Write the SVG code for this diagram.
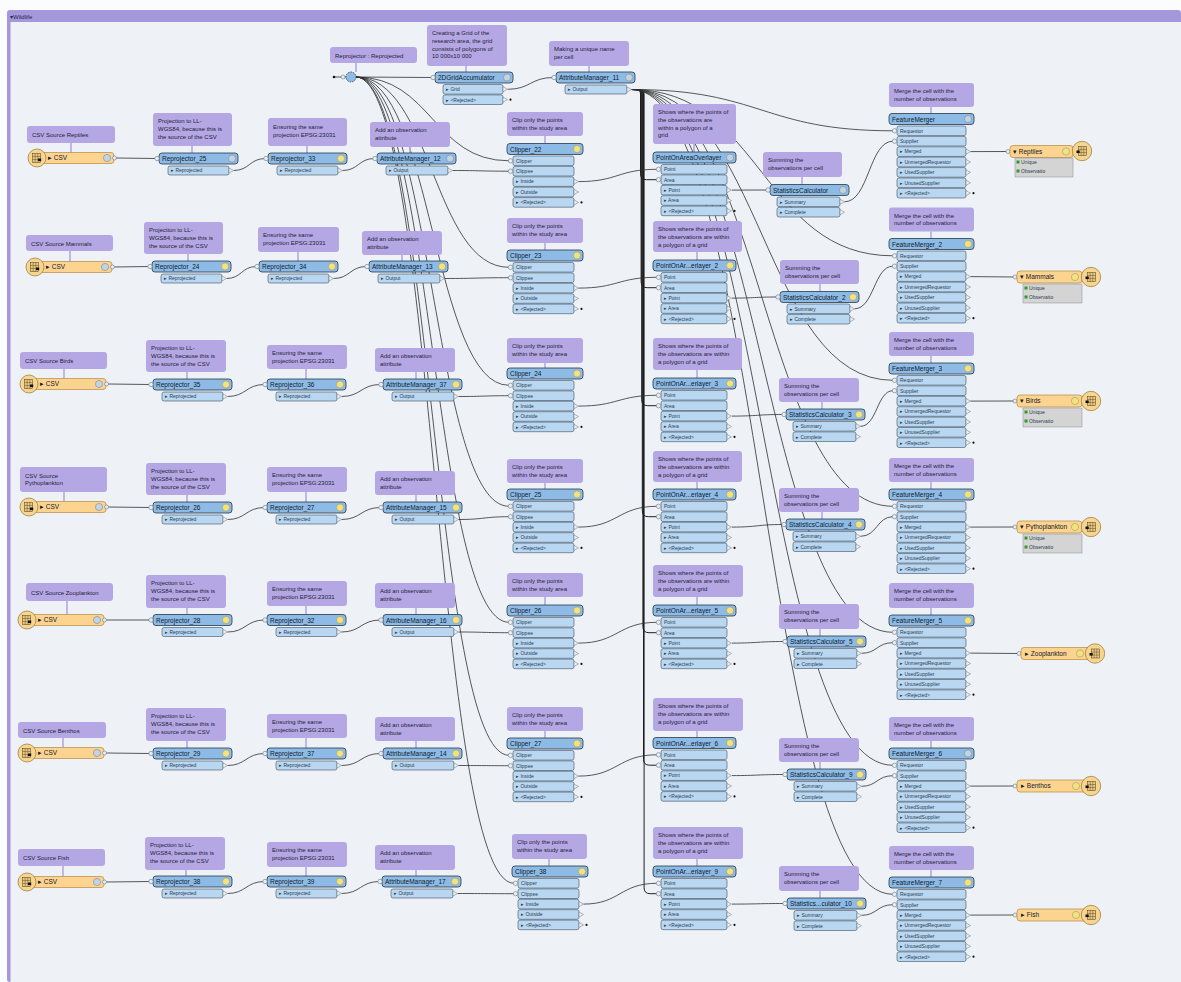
<svg xmlns="http://www.w3.org/2000/svg" xmlns:xlink="http://www.w3.org/1999/xlink" width="1181" height="982" viewBox="0 0 1181 982">
<style>
.tb{fill:#8dbbe6;stroke:#26384a;stroke-width:.8}
.pt{fill:#b9d7f1;stroke:#3a4d60;stroke-width:.6}
.in{fill:#e9edf2;stroke:#6d7a88;stroke-width:.6}
.out{fill:#eef2f6;stroke:#7b8794;stroke-width:.6}
.dot{fill:#111}
.an{fill:#b4a7e3}
.tl{stroke:#b4a7e3;stroke-width:1.6;fill:none}
.at{font-family:"Liberation Sans",Arial,sans-serif;font-size:6px;fill:#231f3a}
.tt{font-family:"Liberation Sans",Arial,sans-serif;font-size:6.5px;fill:#10202e}
.pl{font-family:"Liberation Sans",Arial,sans-serif;font-size:5px;fill:#2a3d52}
.gy{fill:#f3e27e;stroke:#9a9a7a;stroke-width:.6}
.gg{fill:#c4d3e2;stroke:#7a8a9a;stroke-width:.6}
.lk{fill:none;stroke:#2e2e2e;stroke-width:.8}
.bd{fill:none;stroke:#1e1e1e;stroke-width:1}
.rb{fill:#fcd48f;stroke:#b58a3e;stroke-width:.7}
.ic{fill:#f5d590;stroke:#a3823f;stroke-width:.8}
.gl{fill:#e9c77f;stroke:#4a3b20;stroke-width:.5}
.ap{fill:#d4d4d4;stroke:#8a8a8a;stroke-width:.5}
.gr{fill:#2e9a2e}
</style>
<defs>
<!-- port stacks, placed at the top-left corner of each title bar -->
<g id="p-reproj">
<rect class="tb" width="79" height="11" rx="3"/>
<circle class="in" cx="-2" cy="5.5" r="2.2"/>
<rect class="pt" x="9" y="13" width="61" height="9" rx="2"/>
<text class="pl" x="12" y="19.3">▸ Reprojected</text>
<path class="out" d="M70 15V20L74.5 17.5Z"/>
</g>
<g id="p-am">
<rect class="tb" width="79" height="11" rx="3"/>
<circle class="in" cx="-2" cy="5.5" r="2.2"/>
<rect class="pt" x="9" y="13" width="62" height="9" rx="2"/>
<text class="pl" x="12" y="19.3">▸ Output</text>
<path class="out" d="M71 15V20L75.5 17.5Z"/>
</g>
<g id="p-grid">
<rect class="tb" width="78" height="11" rx="3"/>
<circle class="in" cx="-2" cy="5.5" r="2.2"/>
<rect class="pt" x="8" y="12.5" width="60" height="9.6" rx="2"/>
<rect class="pt" x="8" y="22.9" width="60" height="9.6" rx="2"/>
<text class="pl" x="11" y="19.1">▸ Grid</text>
<text class="pl" x="11" y="29.5">▸ &lt;Rejected&gt;</text>
<path class="out" d="M68 14.8V19.8L72.5 17.3Z M68 25.2V30.2L72.5 27.7Z"/>
<circle class="dot" cx="75.5" cy="27.7" r="1.1"/>
</g>
<g id="p-clip">
<rect class="tb" width="76" height="11" rx="3"/>
<rect class="pt" x="6" y="12.5" width="61" height="9.6" rx="2"/>
<rect class="pt" x="6" y="22.9" width="61" height="9.6" rx="2"/>
<rect class="pt" x="6" y="33.3" width="61" height="9.6" rx="2"/>
<rect class="pt" x="6" y="43.7" width="61" height="9.6" rx="2"/>
<rect class="pt" x="6" y="54.1" width="61" height="9.6" rx="2"/>
<circle class="in" cx="3.5" cy="17.3" r="2.2"/>
<circle class="in" cx="3.5" cy="27.7" r="2.2"/>
<text class="pl" x="9" y="19.1">Clipper</text>
<text class="pl" x="9" y="29.5">Clippee</text>
<text class="pl" x="9" y="39.9">▸ Inside</text>
<text class="pl" x="9" y="50.3">▸ Outside</text>
<text class="pl" x="9" y="60.7">▸ &lt;Rejected&gt;</text>
<path class="out" d="M67 35.6V40.6L71.5 38.1Z M67 46V51L71.5 48.5Z M67 56.4V61.4L71.5 58.9Z"/>
<circle class="dot" cx="74.5" cy="58.9" r="1.1"/>
</g>
<g id="p-poa">
<rect class="tb" width="83" height="11" rx="3"/>
<rect class="pt" x="8" y="12.5" width="66" height="9.6" rx="2"/>
<rect class="pt" x="8" y="22.9" width="66" height="9.6" rx="2"/>
<rect class="pt" x="8" y="33.3" width="66" height="9.6" rx="2"/>
<rect class="pt" x="8" y="43.7" width="66" height="9.6" rx="2"/>
<rect class="pt" x="8" y="54.1" width="66" height="9.6" rx="2"/>
<circle class="in" cx="5.5" cy="17.3" r="2.2"/>
<circle class="in" cx="5.5" cy="27.7" r="2.2"/>
<text class="pl" x="11" y="19.1">Point</text>
<text class="pl" x="11" y="29.5">Area</text>
<text class="pl" x="11" y="39.9">▸ Point</text>
<text class="pl" x="11" y="50.3">▸ Area</text>
<text class="pl" x="11" y="60.7">▸ &lt;Rejected&gt;</text>
<path class="out" d="M74 35.6V40.6L78.5 38.1Z M74 46V51L78.5 48.5Z M74 56.4V61.4L78.5 58.9Z"/>
<circle class="dot" cx="81.5" cy="58.9" r="1.1"/>
</g>
<g id="p-stats">
<rect class="tb" width="79" height="11" rx="3"/>
<circle class="in" cx="-2" cy="5.5" r="2.2"/>
<rect class="pt" x="7" y="12.5" width="63" height="9.6" rx="2"/>
<rect class="pt" x="7" y="22.9" width="63" height="9.6" rx="2"/>
<text class="pl" x="10" y="19.1">▸ Summary</text>
<text class="pl" x="10" y="29.5">▸ Complete</text>
<path class="out" d="M70 14.8V19.8L74.5 17.3Z M70 25.2V30.2L74.5 27.7Z"/>
</g>
<g id="p-fm">
<rect class="tb" width="85" height="11" rx="3"/>
<rect class="pt" x="8" y="12.5" width="69" height="9.6" rx="2"/>
<rect class="pt" x="8" y="22.9" width="69" height="9.6" rx="2"/>
<rect class="pt" x="8" y="33.3" width="69" height="9.6" rx="2"/>
<rect class="pt" x="8" y="43.7" width="69" height="9.6" rx="2"/>
<rect class="pt" x="8" y="54.1" width="69" height="9.6" rx="2"/>
<rect class="pt" x="8" y="64.5" width="69" height="9.6" rx="2"/>
<rect class="pt" x="8" y="74.9" width="69" height="9.6" rx="2"/>
<circle class="in" cx="5.5" cy="17.3" r="2.2"/>
<circle class="in" cx="5.5" cy="27.7" r="2.2"/>
<text class="pl" x="11" y="19.1">Requestor</text>
<text class="pl" x="11" y="29.5">Supplier</text>
<text class="pl" x="11" y="39.9">▸ Merged</text>
<text class="pl" x="11" y="50.3">▸ UnmergedRequestor</text>
<text class="pl" x="11" y="60.7">▸ UsedSupplier</text>
<text class="pl" x="11" y="71.1">▸ UnusedSupplier</text>
<text class="pl" x="11" y="81.5">▸ &lt;Rejected&gt;</text>
<path class="out" d="M77 35.6V40.6L81.5 38.1Z M77 46V51L81.5 48.5Z M77 56.4V61.4L81.5 58.9Z M77 66.8V71.8L81.5 69.3Z M77 77.2V82.2L81.5 79.7Z"/>
<circle class="dot" cx="84.5" cy="79.7" r="1.1"/>
</g>
<!-- CSV reader, placed at the centre of its round icon -->
<g id="rdr">
<rect class="rb" x="-3" y="-5.5" width="80" height="11" rx="3"/>
<circle class="ic" r="9"/>
<rect class="gl" x="-4.5" y="-4.5" width="8" height="9"/>
<path d="M-1.8 -4.5V4.5M0.8 -4.5V4.5M-4.5 -1.5H3.5M-4.5 1.5H3.5" stroke="#4a3b20" stroke-width=".4"/>
<rect x="1" y="0.5" width="3.2" height="2.6" fill="#111"/>
<text class="tt" x="11" y="2.4">▸ CSV</text>
<circle class="gg" cx="70" cy="0" r="3.6"/>
<circle class="in" cx="77.5" cy="0" r="2"/>
</g>
<!-- writer icon -->
<g id="wico">
<circle class="ic" r="9.7"/>
<rect class="gl" x="-3.5" y="-4.5" width="8" height="9"/>
<path d="M-0.8 -4.5V4.5M1.8 -4.5V4.5M-3.5 -1.5H4.5M-3.5 1.5H4.5" stroke="#4a3b20" stroke-width=".4"/>
<rect x="-5.5" y="-0.5" width="3.2" height="2.6" fill="#111"/>
</g>
</defs>

<!-- canvas and bookmark frame -->
<rect width="1181" height="982" fill="#fafcfd"/>
<rect x="7" y="10" width="1174" height="972" rx="3" fill="#a497dc"/>
<rect x="10.5" y="22" width="1170.5" height="960" fill="#eef2f7"/>
<text x="10" y="18.5" font-family="Liberation Sans, Arial, sans-serif" font-size="6" fill="#2a2450">▾Wildlife</text>

<!-- connectors -->
<g id="links">
<path class="lk" d="M356 77L432.5 77.5"/>
<path class="lk" d="M507.5 89.3C530.5 89.3 530.5 77.5 553.5 77.5"/>
<!-- reprojected junction fan to clipper inputs -->
<path class="lk" d="M356 77C432 77 433 160.8 509 160.8"/>
<path class="lk" d="M356 77C432 77 433 267.3 509 267.3"/>
<path class="lk" d="M356 77C432 77 433 385.3 509 385.3"/>
<path class="lk" d="M356 77C432 77 433 506.3 509 506.3"/>
<path class="lk" d="M356 77C432 77 433 622.3 509 622.3"/>
<path class="lk" d="M356 77C432 77 433 755.3 509 755.3"/>
<path class="lk" d="M356 77C435 77 435 883.3 514 883.3"/>
<!-- grid cells to overlayer areas -->
<path class="bd" d="M631.5 89.5H636Q640.5 89.5 640.5 94V173.7Q640.5 179.7 646.5 179.7H657"/>
<path class="bd" d="M631.5 89.5H636Q641.1 89.5 641.1 94V281.7Q641.1 287.7 647.1 287.7H657"/>
<path class="bd" d="M631.5 89.5H636Q641.7 89.5 641.7 94V399.7Q641.7 405.7 647.7 405.7H657"/>
<path class="bd" d="M631.5 89.5H636Q642.3 89.5 642.3 94V510.7Q642.3 516.7 648.3 516.7H657"/>
<path class="bd" d="M631.5 89.5H636Q642.9 89.5 642.9 94V626.7Q642.9 632.7 648.9 632.7H657"/>
<path class="bd" d="M631.5 89.5H636Q643.5 89.5 643.5 94V759.2Q643.5 765.2 649.5 765.2H657"/>
<path class="bd" d="M631.5 89.5H636Q644.1 89.5 644.1 94V887.7Q644.1 893.7 650.1 893.7H657"/>
<!-- grid cells to merger requestors -->
<path class="lk" d="M631.5 89.5C762 89.5 762 130.8 893 130.8"/>
<path class="lk" d="M631.5 89.5C762 89.5 762 255.8 893 255.8"/>
<path class="lk" d="M631.5 89.5C762 89.5 762 380.3 893 380.3"/>
<path class="lk" d="M631.5 89.5C762 89.5 762 506.3 893 506.3"/>
<path class="lk" d="M631.5 89.5C762 89.5 762 632.3 893 632.3"/>
<path class="lk" d="M631.5 89.5C762 89.5 762 765.3 893 765.3"/>
<path class="lk" d="M631.5 89.5C762 89.5 762 894.3 893 894.3"/>
<!-- row 1 -->
<path class="lk" d="M116 158L156.5 158.5"/>
<path class="lk" d="M233.5 170.5C249.5 170.5 249.5 158.5 265.5 158.5"/>
<path class="lk" d="M342.5 170.5C358.5 170.5 358.5 158.5 374.5 158.5"/>
<path class="lk" d="M452.5 170.5C481 170.5 481 171.2 509 171.2"/>
<path class="lk" d="M578.5 181.6C618 181.6 618 169.3 657 169.3"/>
<path class="lk" d="M732 190.1L767 190"/>
<path class="lk" d="M844.5 201.8C869 201.8 869 141.2 893 141.2"/>
<path class="lk" d="M970.5 151.6L1007 151.5"/>
<!-- row 2 -->
<path class="lk" d="M114 267L149.5 266.5"/>
<path class="lk" d="M226.5 278.5C241.5 278.5 241.5 266.5 256.5 266.5"/>
<path class="lk" d="M333.5 278.5C350 278.5 350 266.5 366.5 266.5"/>
<path class="lk" d="M444.5 278.5C477 278.5 477 277.7 509 277.7"/>
<path class="lk" d="M578.5 288.1C618 288.1 618 277.3 657 277.3"/>
<path class="lk" d="M732 298.1C755 298.1 754 297 777 297"/>
<path class="lk" d="M854.5 308.8C874 308.8 874 266.2 893 266.2"/>
<path class="lk" d="M970.5 276.6L1014 277"/>
<!-- row 3 -->
<path class="lk" d="M108 384L150.5 384.5"/>
<path class="lk" d="M227.5 396.5C246 396.5 246 384.5 264.5 384.5"/>
<path class="lk" d="M341.5 396.5C361 396.5 361 384.5 380.5 384.5"/>
<path class="lk" d="M458.5 396.5C484 396.5 484 395.7 509 395.7"/>
<path class="lk" d="M578.5 406.1C618 406.1 618 395.3 657 395.3"/>
<path class="lk" d="M732 416.1C758 416.1 757 414.5 783 414.5"/>
<path class="lk" d="M860.5 426.3C877 426.3 877 390.7 893 390.7"/>
<path class="lk" d="M970.5 401.1L1014 401"/>
<!-- row 4 -->
<path class="lk" d="M108 507L150.5 507.5"/>
<path class="lk" d="M227.5 519.5C246 519.5 246 507.5 264.5 507.5"/>
<path class="lk" d="M341.5 519.5C361 519.5 361 507.5 380.5 507.5"/>
<path class="lk" d="M458.5 519.5C484 519.5 484 516.7 509 516.7"/>
<path class="lk" d="M578.5 527.1C618 527.1 618 506.3 657 506.3"/>
<path class="lk" d="M732 527.1C758 527.1 757 524.5 783 524.5"/>
<path class="lk" d="M860.5 536.3C877 536.3 877 516.7 893 516.7"/>
<path class="lk" d="M970.5 527.1L1014 527"/>
<!-- row 5 -->
<path class="lk" d="M106 620L150.5 620"/>
<path class="lk" d="M227.5 632C246 632 246 620 264.5 620"/>
<path class="lk" d="M341.5 632C361 632 361 620 380.5 620"/>
<path class="lk" d="M458.5 632C484 632 484 632.7 509 632.7"/>
<path class="lk" d="M578.5 643.1C618 643.1 618 622.3 657 622.3"/>
<path class="lk" d="M732 643.1C758 643.1 758 641.5 784 641.5"/>
<path class="lk" d="M861.5 653.3C877 653.3 877 642.7 893 642.7"/>
<path class="lk" d="M970.5 653.1L1018 653.5"/>
<!-- row 6 -->
<path class="lk" d="M106 753L150.5 753.5"/>
<path class="lk" d="M227.5 765.5C246 765.5 246 753.5 264.5 753.5"/>
<path class="lk" d="M341.5 765.5C361 765.5 361 753.5 380.5 753.5"/>
<path class="lk" d="M458.5 765.5C484 765.5 484 765.7 509 765.7"/>
<path class="lk" d="M578.5 776.1C618 776.1 618 754.8 657 754.8"/>
<path class="lk" d="M732 775.6C758 775.6 758 774.5 784 774.5"/>
<path class="lk" d="M861.5 786.3C877 786.3 877 775.7 893 775.7"/>
<path class="lk" d="M970.5 786.1L1014 786"/>
<!-- row 7 -->
<path class="lk" d="M106 882L150.5 881.5"/>
<path class="lk" d="M227.5 893.5C246 893.5 246 881.5 264.5 881.5"/>
<path class="lk" d="M341.5 893.5C360.5 893.5 360.5 881.5 379.5 881.5"/>
<path class="lk" d="M457.5 893.5C486 893.5 486 893.7 514 893.7"/>
<path class="lk" d="M583.5 904.1C620 904.1 620 883.3 657 883.3"/>
<path class="lk" d="M732 904.1C758 904.1 758 903.5 784 903.5"/>
<path class="lk" d="M861.5 915.3C877 915.3 877 904.7 893 904.7"/>
<path class="lk" d="M970.5 915.1L1014 915"/>
</g>

<!-- shared nodes at the top -->
<g id="junction-reprojected">
<rect class="an" x="330" y="47" width="87" height="16" rx="3"/><path class="tl" d="M356 63V72"/>
<text class="at" x="335" y="57.5">Reprojector : Reprojected</text>
<path class="lk" d="M334 77H346"/><circle class="dot" cx="334" cy="77" r="1.3"/><circle class="in" cx="343" cy="77" r="2"/>
<circle cx="351" cy="77" r="5" fill="#8dbbe6" stroke="#26384a" stroke-width=".8" stroke-dasharray="1.5 1"/>
</g>
<g id="grid-accumulator">
<rect class="an" x="427" y="25" width="80" height="41" rx="3"/><path class="tl" d="M466 66V72"/>
<text class="at"><tspan x="432" y="35">Creating a Grid of the</tspan><tspan x="432" y="42.8">research area, the grid</tspan><tspan x="432" y="50.6">consists of polygons of</tspan><tspan x="432" y="58.4">10 000x10 000</tspan></text>
<use href="#p-grid" x="435" y="72"/><text class="tt" x="438" y="80">2DGridAccumulator</text><circle class="gg" cx="507" cy="77.5" r="3.6"/>
</g>
<g id="attributemanager-11">
<rect class="an" x="549" y="41" width="80" height="25" rx="3"/><path class="tl" d="M589 66V72"/>
<text class="at"><tspan x="554" y="51">Making a unique name</tspan><tspan x="554" y="58.8">per cell</tspan></text>
<use href="#p-am" x="556" y="72"/><text class="tt" x="559" y="80">AttributeManager_11</text><circle class="gg" cx="629" cy="77.5" r="3.6"/>
</g>

<!-- row 1: reptiles -->
<g id="csv-reptiles"><rect class="an" x="27" y="126" width="88" height="17" rx="3"/><path class="tl" d="M71 143V152.5"/><text class="at" x="32" y="137">CSV Source Reptiles</text><use href="#rdr" x="37" y="158"/></g>
<g id="reprojector-25"><rect class="an" x="153" y="113" width="79" height="33" rx="3"/><path class="tl" d="M192 146V153"/><text class="at"><tspan x="158" y="123">Projection to LL-</tspan><tspan x="158" y="130.8">WGS84, because this is</tspan><tspan x="158" y="138.6">the source of the CSV</tspan></text><use href="#p-reproj" x="159" y="153"/><text class="tt" x="162" y="161">Reprojector_25</text><circle class="gg" cx="232" cy="158.5" r="3.6"/></g>
<g id="reprojector-33"><rect class="an" x="268" y="118" width="79" height="28" rx="3"/><path class="tl" d="M307 146V153"/><text class="at"><tspan x="273" y="129">Ensuring the same</tspan><tspan x="273" y="136.8">projection EPSG:23031</tspan></text><use href="#p-reproj" x="268" y="153"/><text class="tt" x="271" y="161">Reprojector_33</text><circle class="gy" cx="341" cy="158.5" r="3.6"/></g>
<g id="attributemanager-12"><rect class="an" x="370" y="122" width="80" height="25" rx="3"/><path class="tl" d="M410 147V153"/><text class="at"><tspan x="375" y="132">Add an observation</tspan><tspan x="375" y="139.8">attribute</tspan></text><use href="#p-am" x="377" y="153"/><text class="tt" x="380" y="161">AttributeManager_12</text><circle class="gg" cx="450" cy="158.5" r="3.6"/></g>
<g id="clipper-22"><rect class="an" x="507" y="112" width="76" height="24" rx="3"/><path class="tl" d="M545 136V143.5"/><text class="at"><tspan x="512" y="122">Clip only the points</tspan><tspan x="512" y="129.8">within the study area</tspan></text><use href="#p-clip" x="507" y="143.5"/><text class="tt" x="510" y="151.5">Clipper_22</text><circle class="gy" cx="577" cy="149" r="3.6"/></g>
<g id="pointonareaoverlayer"><rect class="an" x="653" y="104" width="83" height="40" rx="3"/><path class="tl" d="M694 144V152"/><text class="at"><tspan x="658" y="114">Shows where the points of</tspan><tspan x="658" y="121.8">the observations are</tspan><tspan x="658" y="129.6">within a polygon of a</tspan><tspan x="658" y="137.4">grid</tspan></text><use href="#p-poa" x="653" y="152"/><text class="tt" x="656" y="160">PointOnAreaOverlayer</text><circle class="gg" cx="730" cy="157.5" r="3.6"/></g>
<g id="statisticscalculator"><rect class="an" x="763" y="152" width="79" height="25" rx="3"/><path class="tl" d="M802 177V184.5"/><text class="at"><tspan x="768" y="162">Summing the</tspan><tspan x="768" y="169.8">observations per cell</tspan></text><use href="#p-stats" x="770" y="184.5"/><text class="tt" x="773" y="192.5">StatisticsCalculator</text><circle class="gg" cx="843" cy="190" r="3.6"/></g>
<g id="featuremerger"><rect class="an" x="889" y="83" width="85" height="24" rx="3"/><path class="tl" d="M931 107V113.5"/><text class="at"><tspan x="894" y="93">Merge the cell with the</tspan><tspan x="894" y="100.8">number of observations</tspan></text><use href="#p-fm" x="889" y="113.5"/><text class="tt" x="892" y="121.5">FeatureMerger</text><circle class="gg" cx="968" cy="119" r="3.6"/></g>
<g id="writer-reptiles"><circle class="in" cx="1008" cy="151.5" r="2"/><rect class="rb" x="1010" y="145.5" width="63" height="12" rx="3"/><text class="tt" x="1013" y="153.8">▾ Reptiles</text><circle class="gy" cx="1066" cy="151.5" r="3.6"/><rect class="ap" x="1015" y="158" width="58" height="19"/><rect class="gr" x="1016.5" y="160.5" width="3" height="3"/><rect class="gr" x="1016.5" y="169.5" width="3" height="3"/><text class="pl" x="1021" y="163.8">Unique</text><text class="pl" x="1021" y="172.8">Observatio</text><use href="#wico" x="1082" y="151"/></g>

<!-- row 2: mammals -->
<g id="csv-mammals"><rect class="an" x="26" y="235" width="87" height="16" rx="3"/><path class="tl" d="M70 251V261.5"/><text class="at" x="31" y="245.5">CSV Source Mammals</text><use href="#rdr" x="35" y="267"/></g>
<g id="reprojector-24"><rect class="an" x="144" y="222" width="79" height="32" rx="3"/><path class="tl" d="M188 254V261"/><text class="at"><tspan x="149" y="232">Projection to LL-</tspan><tspan x="149" y="239.8">WGS84, because this is</tspan><tspan x="149" y="247.6">the source of the CSV</tspan></text><use href="#p-reproj" x="152" y="261"/><text class="tt" x="155" y="269">Reprojector_24</text><circle class="gy" cx="225" cy="266.5" r="3.6"/></g>
<g id="reprojector-34"><rect class="an" x="258" y="227" width="81" height="25" rx="3"/><path class="tl" d="M298 252V261"/><text class="at"><tspan x="263" y="237">Ensuring the same</tspan><tspan x="263" y="244.8">projection EPSG:23031</tspan></text><use href="#p-reproj" x="259" y="261"/><text class="tt" x="262" y="269">Reprojector_34</text><circle class="gy" cx="332" cy="266.5" r="3.6"/></g>
<g id="attributemanager-13"><rect class="an" x="362" y="231" width="80" height="24" rx="3"/><path class="tl" d="M402 255V261"/><text class="at"><tspan x="367" y="241">Add an observation</tspan><tspan x="367" y="248.8">attribute</tspan></text><use href="#p-am" x="369" y="261"/><text class="tt" x="372" y="269">AttributeManager_13</text><circle class="gy" cx="442" cy="266.5" r="3.6"/></g>
<g id="clipper-23"><rect class="an" x="507" y="218" width="76" height="25" rx="3"/><path class="tl" d="M545 243V250"/><text class="at"><tspan x="512" y="228">Clip only the points</tspan><tspan x="512" y="235.8">within the study area</tspan></text><use href="#p-clip" x="507" y="250"/><text class="tt" x="510" y="258">Clipper_23</text><circle class="gy" cx="577" cy="255.5" r="3.6"/></g>
<g id="pointonareaoverlayer-2"><rect class="an" x="653" y="221" width="89" height="31" rx="3"/><path class="tl" d="M697 252V260"/><text class="at"><tspan x="658" y="231">Shows where the points of</tspan><tspan x="658" y="238.8">the observations are within</tspan><tspan x="658" y="246.6">a polygon of a grid</tspan></text><use href="#p-poa" x="653" y="260"/><text class="tt" x="656" y="268">PointOnAr...erlayer_2</text><circle class="gy" cx="730" cy="265.5" r="3.6"/></g>
<g id="statisticscalculator-2"><rect class="an" x="780" y="260" width="79" height="24" rx="3"/><path class="tl" d="M820 284V291.5"/><text class="at"><tspan x="785" y="270">Summing the</tspan><tspan x="785" y="277.8">observations per cell</tspan></text><use href="#p-stats" x="780" y="291.5"/><text class="tt" x="783" y="299.5">StatisticsCalculator_2</text><circle class="gy" cx="853" cy="297" r="3.6"/></g>
<g id="featuremerger-2"><rect class="an" x="889" y="207.5" width="85" height="24" rx="3"/><path class="tl" d="M931 231.5V238.5"/><text class="at"><tspan x="894" y="217.5">Merge the cell with the</tspan><tspan x="894" y="225.3">number of observations</tspan></text><use href="#p-fm" x="889" y="238.5"/><text class="tt" x="892" y="246.5">FeatureMerger_2</text><circle class="gy" cx="968" cy="244" r="3.6"/></g>
<g id="writer-mammals"><circle class="in" cx="1015" cy="277" r="2"/><rect class="rb" x="1017" y="271" width="65" height="12" rx="3"/><text class="tt" x="1020" y="279.3">▾ Mammals</text><circle class="gy" cx="1075" cy="277" r="3.6"/><rect class="ap" x="1023" y="284" width="59" height="19"/><rect class="gr" x="1024.5" y="286.5" width="3" height="3"/><rect class="gr" x="1024.5" y="295.5" width="3" height="3"/><text class="pl" x="1029" y="289.8">Unique</text><text class="pl" x="1029" y="298.8">Observatio</text><use href="#wico" x="1091" y="277"/></g>

<!-- row 3: birds -->
<g id="csv-birds"><rect class="an" x="20" y="352" width="87" height="17" rx="3"/><path class="tl" d="M64 369V378.5"/><text class="at" x="25" y="363">CSV Source Birds</text><use href="#rdr" x="29" y="384"/></g>
<g id="reprojector-35"><rect class="an" x="146" y="340" width="80" height="32" rx="3"/><path class="tl" d="M187 372V379"/><text class="at"><tspan x="151" y="350">Projection to LL-</tspan><tspan x="151" y="357.8">WGS84, because this is</tspan><tspan x="151" y="365.6">the source of the CSV</tspan></text><use href="#p-reproj" x="153" y="379"/><text class="tt" x="156" y="387">Reprojector_35</text><circle class="gy" cx="226" cy="384.5" r="3.6"/></g>
<g id="reprojector-36"><rect class="an" x="267" y="345" width="80" height="24" rx="3"/><path class="tl" d="M306 369V379"/><text class="at"><tspan x="272" y="355">Ensuring the same</tspan><tspan x="272" y="362.8">projection EPSG:23031</tspan></text><use href="#p-reproj" x="267" y="379"/><text class="tt" x="270" y="387">Reprojector_36</text><circle class="gy" cx="340" cy="384.5" r="3.6"/></g>
<g id="attributemanager-37"><rect class="an" x="375" y="348" width="80" height="24" rx="3"/><path class="tl" d="M416 372V379"/><text class="at"><tspan x="380" y="358">Add an observation</tspan><tspan x="380" y="365.8">attribute</tspan></text><use href="#p-am" x="383" y="379"/><text class="tt" x="386" y="387">AttributeManager_37</text><circle class="gy" cx="456" cy="384.5" r="3.6"/></g>
<g id="clipper-24"><rect class="an" x="507" y="338" width="76" height="25" rx="3"/><path class="tl" d="M545 363V368"/><text class="at"><tspan x="512" y="348">Clip only the points</tspan><tspan x="512" y="355.8">within the study area</tspan></text><use href="#p-clip" x="507" y="368"/><text class="tt" x="510" y="376">Clipper_24</text><circle class="gy" cx="577" cy="373.5" r="3.6"/></g>
<g id="pointonareaoverlayer-3"><rect class="an" x="653" y="338" width="89" height="32" rx="3"/><path class="tl" d="M697 370V378"/><text class="at"><tspan x="658" y="348">Shows where the points of</tspan><tspan x="658" y="355.8">the observations are within</tspan><tspan x="658" y="363.6">a polygon of a grid</tspan></text><use href="#p-poa" x="653" y="378"/><text class="tt" x="656" y="386">PointOnAr...erlayer_3</text><circle class="gy" cx="730" cy="383.5" r="3.6"/></g>
<g id="statisticscalculator-3"><rect class="an" x="779" y="378" width="80" height="24" rx="3"/><path class="tl" d="M822 402V409"/><text class="at"><tspan x="784" y="388">Summing the</tspan><tspan x="784" y="395.8">observations per cell</tspan></text><use href="#p-stats" x="786" y="409"/><text class="tt" x="789" y="417">StatisticsCalculator_3</text><circle class="gy" cx="859" cy="414.5" r="3.6"/></g>
<g id="featuremerger-3"><rect class="an" x="889" y="332" width="85" height="24" rx="3"/><path class="tl" d="M931 356V363"/><text class="at"><tspan x="894" y="342">Merge the cell with the</tspan><tspan x="894" y="349.8">number of observations</tspan></text><use href="#p-fm" x="889" y="363"/><text class="tt" x="892" y="371">FeatureMerger_3</text><circle class="gy" cx="968" cy="368.5" r="3.6"/></g>
<g id="writer-birds"><circle class="in" cx="1015" cy="401" r="2"/><rect class="rb" x="1017" y="395" width="65" height="12" rx="3"/><text class="tt" x="1020" y="403.3">▾ Birds</text><circle class="gy" cx="1075" cy="401" r="3.6"/><rect class="ap" x="1023" y="408" width="59" height="19"/><rect class="gr" x="1024.5" y="410.5" width="3" height="3"/><rect class="gr" x="1024.5" y="419.5" width="3" height="3"/><text class="pl" x="1029" y="413.8">Unique</text><text class="pl" x="1029" y="422.8">Observatio</text><use href="#wico" x="1091" y="401"/></g>

<!-- row 4: phytoplankton -->
<g id="csv-phytoplankton"><rect class="an" x="20" y="467" width="87" height="25" rx="3"/><path class="tl" d="M64 492V501.5"/><text class="at"><tspan x="25" y="477.5">CSV Source</tspan><tspan x="25" y="485.3">Pythoplankton</tspan></text><use href="#rdr" x="29" y="507"/></g>
<g id="reprojector-26"><rect class="an" x="146" y="463" width="80" height="32" rx="3"/><path class="tl" d="M187 495V502"/><text class="at"><tspan x="151" y="473">Projection to LL-</tspan><tspan x="151" y="480.8">WGS84, because this is</tspan><tspan x="151" y="488.6">the source of the CSV</tspan></text><use href="#p-reproj" x="153" y="502"/><text class="tt" x="156" y="510">Reprojector_26</text><circle class="gy" cx="226" cy="507.5" r="3.6"/></g>
<g id="reprojector-27"><rect class="an" x="267" y="467" width="80" height="25" rx="3"/><path class="tl" d="M306 492V502"/><text class="at"><tspan x="272" y="477">Ensuring the same</tspan><tspan x="272" y="484.8">projection EPSG:23031</tspan></text><use href="#p-reproj" x="267" y="502"/><text class="tt" x="270" y="510">Reprojector_27</text><circle class="gy" cx="340" cy="507.5" r="3.6"/></g>
<g id="attributemanager-15"><rect class="an" x="375" y="471" width="80" height="24" rx="3"/><path class="tl" d="M416 495V502"/><text class="at"><tspan x="380" y="481">Add an observation</tspan><tspan x="380" y="488.8">attribute</tspan></text><use href="#p-am" x="383" y="502"/><text class="tt" x="386" y="510">AttributeManager_15</text><circle class="gy" cx="456" cy="507.5" r="3.6"/></g>
<g id="clipper-25"><rect class="an" x="507" y="459" width="76" height="24" rx="3"/><path class="tl" d="M545 483V489"/><text class="at"><tspan x="512" y="469">Clip only the points</tspan><tspan x="512" y="476.8">within the study area</tspan></text><use href="#p-clip" x="507" y="489"/><text class="tt" x="510" y="497">Clipper_25</text><circle class="gy" cx="577" cy="494.5" r="3.6"/></g>
<g id="pointonareaoverlayer-4"><rect class="an" x="653" y="451" width="89" height="31" rx="3"/><path class="tl" d="M697 482V489"/><text class="at"><tspan x="658" y="461">Shows where the points of</tspan><tspan x="658" y="468.8">the observations are within</tspan><tspan x="658" y="476.6">a polygon of a grid</tspan></text><use href="#p-poa" x="653" y="489"/><text class="tt" x="656" y="497">PointOnAr...erlayer_4</text><circle class="gy" cx="730" cy="494.5" r="3.6"/></g>
<g id="statisticscalculator-4"><rect class="an" x="779" y="488" width="80" height="24" rx="3"/><path class="tl" d="M822 512V519"/><text class="at"><tspan x="784" y="498">Summing the</tspan><tspan x="784" y="505.8">observations per cell</tspan></text><use href="#p-stats" x="786" y="519"/><text class="tt" x="789" y="527">StatisticsCalculator_4</text><circle class="gy" cx="859" cy="524.5" r="3.6"/></g>
<g id="featuremerger-4"><rect class="an" x="889" y="458" width="85" height="24" rx="3"/><path class="tl" d="M931 482V489"/><text class="at"><tspan x="894" y="468">Merge the cell with the</tspan><tspan x="894" y="475.8">number of observations</tspan></text><use href="#p-fm" x="889" y="489"/><text class="tt" x="892" y="497">FeatureMerger_4</text><circle class="gy" cx="968" cy="494.5" r="3.6"/></g>
<g id="writer-phytoplankton"><circle class="in" cx="1015" cy="527" r="2"/><rect class="rb" x="1017" y="521" width="65" height="12" rx="3"/><text class="tt" x="1020" y="529.3">▾ Pythoplankton</text><circle class="gy" cx="1075" cy="527" r="3.6"/><rect class="ap" x="1023" y="534" width="59" height="19"/><rect class="gr" x="1024.5" y="536.5" width="3" height="3"/><rect class="gr" x="1024.5" y="545.5" width="3" height="3"/><text class="pl" x="1029" y="539.8">Unique</text><text class="pl" x="1029" y="548.8">Observatio</text><use href="#wico" x="1091" y="527"/></g>

<!-- row 5: zooplankton -->
<g id="csv-zooplankton"><rect class="an" x="26" y="583" width="87" height="18" rx="3"/><path class="tl" d="M67 601V614.5"/><text class="at" x="31" y="594.5">CSV Source Zooplankton</text><use href="#rdr" x="27" y="620"/></g>
<g id="reprojector-28"><rect class="an" x="146" y="575" width="80" height="33" rx="3"/><path class="tl" d="M187 608V614.5"/><text class="at"><tspan x="151" y="585">Projection to LL-</tspan><tspan x="151" y="592.8">WGS84, because this is</tspan><tspan x="151" y="600.6">the source of the CSV</tspan></text><use href="#p-reproj" x="153" y="614.5"/><text class="tt" x="156" y="622.5">Reprojector_28</text><circle class="gy" cx="226" cy="620" r="3.6"/></g>
<g id="reprojector-32"><rect class="an" x="267" y="581" width="80" height="25" rx="3"/><path class="tl" d="M306 606V614.5"/><text class="at"><tspan x="272" y="591">Ensuring the same</tspan><tspan x="272" y="598.8">projection EPSG:23031</tspan></text><use href="#p-reproj" x="267" y="614.5"/><text class="tt" x="270" y="622.5">Reprojector_32</text><circle class="gy" cx="340" cy="620" r="3.6"/></g>
<g id="attributemanager-16"><rect class="an" x="375" y="583" width="80" height="25" rx="3"/><path class="tl" d="M416 608V614.5"/><text class="at"><tspan x="380" y="593">Add an observation</tspan><tspan x="380" y="600.8">attribute</tspan></text><use href="#p-am" x="383" y="614.5"/><text class="tt" x="386" y="622.5">AttributeManager_16</text><circle class="gy" cx="456" cy="620" r="3.6"/></g>
<g id="clipper-26"><rect class="an" x="507" y="573" width="76" height="24" rx="3"/><path class="tl" d="M545 597V605"/><text class="at"><tspan x="512" y="583">Clip only the points</tspan><tspan x="512" y="590.8">within the study area</tspan></text><use href="#p-clip" x="507" y="605"/><text class="tt" x="510" y="613">Clipper_26</text><circle class="gy" cx="577" cy="610.5" r="3.6"/></g>
<g id="pointonareaoverlayer-5"><rect class="an" x="653" y="565" width="90" height="32" rx="3"/><path class="tl" d="M697 597V605"/><text class="at"><tspan x="658" y="575">Shows where the points of</tspan><tspan x="658" y="582.8">the observations are within</tspan><tspan x="658" y="590.6">a polygon of a grid</tspan></text><use href="#p-poa" x="653" y="605"/><text class="tt" x="656" y="613">PointOnAr...erlayer_5</text><circle class="gy" cx="730" cy="610.5" r="3.6"/></g>
<g id="statisticscalculator-5"><rect class="an" x="779" y="604" width="80" height="25" rx="3"/><path class="tl" d="M820 629V636"/><text class="at"><tspan x="784" y="614">Summing the</tspan><tspan x="784" y="621.8">observations per cell</tspan></text><use href="#p-stats" x="787" y="636"/><text class="tt" x="790" y="644">StatisticsCalculator_5</text><circle class="gy" cx="860" cy="641.5" r="3.6"/></g>
<g id="featuremerger-5"><rect class="an" x="889" y="583" width="85" height="25" rx="3"/><path class="tl" d="M931 608V615"/><text class="at"><tspan x="894" y="593">Merge the cell with the</tspan><tspan x="894" y="600.8">number of observations</tspan></text><use href="#p-fm" x="889" y="615"/><text class="tt" x="892" y="623">FeatureMerger_5</text><circle class="gy" cx="968" cy="620.5" r="3.6"/></g>
<g id="writer-zooplankton"><circle class="in" cx="1019" cy="653.5" r="2"/><rect class="rb" x="1021" y="647.5" width="72" height="12" rx="3"/><text class="tt" x="1025" y="655.8">▸ Zooplankton</text><circle class="gy" cx="1080" cy="653.5" r="3.6"/><use href="#wico" x="1095" y="653.5"/></g>

<!-- row 6: benthos -->
<g id="csv-benthos"><rect class="an" x="18" y="722" width="88" height="16" rx="3"/><path class="tl" d="M63 738V747.5"/><text class="at" x="23" y="732.5">CSV Source Benthos</text><use href="#rdr" x="27" y="753"/></g>
<g id="reprojector-29"><rect class="an" x="146" y="708" width="80" height="33" rx="3"/><path class="tl" d="M187 741V748"/><text class="at"><tspan x="151" y="718">Projection to LL-</tspan><tspan x="151" y="725.8">WGS84, because this is</tspan><tspan x="151" y="733.6">the source of the CSV</tspan></text><use href="#p-reproj" x="153" y="748"/><text class="tt" x="156" y="756">Reprojector_29</text><circle class="gy" cx="226" cy="753.5" r="3.6"/></g>
<g id="reprojector-37"><rect class="an" x="267" y="714" width="80" height="24" rx="3"/><path class="tl" d="M306 738V748"/><text class="at"><tspan x="272" y="724">Ensuring the same</tspan><tspan x="272" y="731.8">projection EPSG:23031</tspan></text><use href="#p-reproj" x="267" y="748"/><text class="tt" x="270" y="756">Reprojector_37</text><circle class="gy" cx="340" cy="753.5" r="3.6"/></g>
<g id="attributemanager-14"><rect class="an" x="375" y="717" width="80" height="24" rx="3"/><path class="tl" d="M416 741V748"/><text class="at"><tspan x="380" y="727">Add an observation</tspan><tspan x="380" y="734.8">attribute</tspan></text><use href="#p-am" x="383" y="748"/><text class="tt" x="386" y="756">AttributeManager_14</text><circle class="gy" cx="456" cy="753.5" r="3.6"/></g>
<g id="clipper-27"><rect class="an" x="507" y="707" width="76" height="24" rx="3"/><path class="tl" d="M545 731V738"/><text class="at"><tspan x="512" y="717">Clip only the points</tspan><tspan x="512" y="724.8">within the study area</tspan></text><use href="#p-clip" x="507" y="738"/><text class="tt" x="510" y="746">Clipper_27</text><circle class="gy" cx="577" cy="743.5" r="3.6"/></g>
<g id="pointonareaoverlayer-6"><rect class="an" x="653" y="698" width="90" height="33" rx="3"/><path class="tl" d="M697 731V737.5"/><text class="at"><tspan x="658" y="708">Shows where the points of</tspan><tspan x="658" y="715.8">the observations are within</tspan><tspan x="658" y="723.6">a polygon of a grid</tspan></text><use href="#p-poa" x="653" y="737.5"/><text class="tt" x="656" y="745.5">PointOnAr...erlayer_6</text><circle class="gy" cx="730" cy="743" r="3.6"/></g>
<g id="statisticscalculator-9"><rect class="an" x="779" y="738" width="80" height="24" rx="3"/><path class="tl" d="M820 762V769"/><text class="at"><tspan x="784" y="748">Summing the</tspan><tspan x="784" y="755.8">observations per cell</tspan></text><use href="#p-stats" x="787" y="769"/><text class="tt" x="790" y="777">StatisticsCalculator_9</text><circle class="gy" cx="860" cy="774.5" r="3.6"/></g>
<g id="featuremerger-6"><rect class="an" x="889" y="717" width="85" height="24" rx="3"/><path class="tl" d="M931 741V748"/><text class="at"><tspan x="894" y="727">Merge the cell with the</tspan><tspan x="894" y="734.8">number of observations</tspan></text><use href="#p-fm" x="889" y="748"/><text class="tt" x="892" y="756">FeatureMerger_6</text><circle class="gg" cx="968" cy="753.5" r="3.6"/></g>
<g id="writer-benthos"><circle class="in" cx="1015" cy="786" r="2"/><rect class="rb" x="1017" y="780" width="70" height="12" rx="3"/><text class="tt" x="1021" y="788.3">▸ Benthos</text><circle class="gy" cx="1076" cy="786" r="3.6"/><use href="#wico" x="1091" y="786"/></g>

<!-- row 7: fish -->
<g id="csv-fish"><rect class="an" x="18" y="849" width="87" height="17" rx="3"/><path class="tl" d="M63 866V876.5"/><text class="at" x="23" y="860">CSV Source Fish</text><use href="#rdr" x="27" y="882"/></g>
<g id="reprojector-38"><rect class="an" x="145" y="837" width="80" height="33" rx="3"/><path class="tl" d="M186 870V876"/><text class="at"><tspan x="150" y="847">Projection to LL-</tspan><tspan x="150" y="854.8">WGS84, because this is</tspan><tspan x="150" y="862.6">the source of the CSV</tspan></text><use href="#p-reproj" x="153" y="876"/><text class="tt" x="156" y="884">Reprojector_38</text><circle class="gy" cx="226" cy="881.5" r="3.6"/></g>
<g id="reprojector-39"><rect class="an" x="267" y="842" width="80" height="25" rx="3"/><path class="tl" d="M306 867V876"/><text class="at"><tspan x="272" y="852">Ensuring the same</tspan><tspan x="272" y="859.8">projection EPSG:23031</tspan></text><use href="#p-reproj" x="267" y="876"/><text class="tt" x="270" y="884">Reprojector_39</text><circle class="gy" cx="340" cy="881.5" r="3.6"/></g>
<g id="attributemanager-17"><rect class="an" x="375" y="845" width="80" height="25" rx="3"/><path class="tl" d="M416 870V876"/><text class="at"><tspan x="380" y="855">Add an observation</tspan><tspan x="380" y="862.8">attribute</tspan></text><use href="#p-am" x="382" y="876"/><text class="tt" x="385" y="884">AttributeManager_17</text><circle class="gy" cx="455" cy="881.5" r="3.6"/></g>
<g id="clipper-38"><rect class="an" x="512" y="834" width="75" height="25" rx="3"/><path class="tl" d="M549 859V866"/><text class="at"><tspan x="517" y="844">Clip only the points</tspan><tspan x="517" y="851.8">within the study area</tspan></text><use href="#p-clip" x="512" y="866"/><text class="tt" x="515" y="874">Clipper_38</text><circle class="gy" cx="582" cy="871.5" r="3.6"/></g>
<g id="pointonareaoverlayer-9"><rect class="an" x="653" y="827" width="90" height="32" rx="3"/><path class="tl" d="M697 859V866"/><text class="at"><tspan x="658" y="837">Shows where the points of</tspan><tspan x="658" y="844.8">the observations are within</tspan><tspan x="658" y="852.6">a polygon of a grid</tspan></text><use href="#p-poa" x="653" y="866"/><text class="tt" x="656" y="874">PointOnAr...erlayer_9</text><circle class="gy" cx="730" cy="871.5" r="3.6"/></g>
<g id="statisticscalculator-10"><rect class="an" x="779" y="866" width="80" height="25" rx="3"/><path class="tl" d="M820 891V898"/><text class="at"><tspan x="784" y="876">Summing the</tspan><tspan x="784" y="883.8">observations per cell</tspan></text><use href="#p-stats" x="787" y="898"/><text class="tt" x="790" y="906">Statistics...culator_10</text><circle class="gy" cx="860" cy="903.5" r="3.6"/></g>
<g id="featuremerger-7"><rect class="an" x="889" y="846" width="85" height="24" rx="3"/><path class="tl" d="M931 870V877"/><text class="at"><tspan x="894" y="856">Merge the cell with the</tspan><tspan x="894" y="863.8">number of observations</tspan></text><use href="#p-fm" x="889" y="877"/><text class="tt" x="892" y="885">FeatureMerger_7</text><circle class="gy" cx="968" cy="882.5" r="3.6"/></g>
<g id="writer-fish"><circle class="in" cx="1015" cy="915" r="2"/><rect class="rb" x="1017" y="909" width="70" height="12" rx="3"/><text class="tt" x="1021" y="917.3">▸ Fish</text><circle class="gy" cx="1076" cy="915" r="3.6"/><use href="#wico" x="1091" y="915"/></g>
</svg>
